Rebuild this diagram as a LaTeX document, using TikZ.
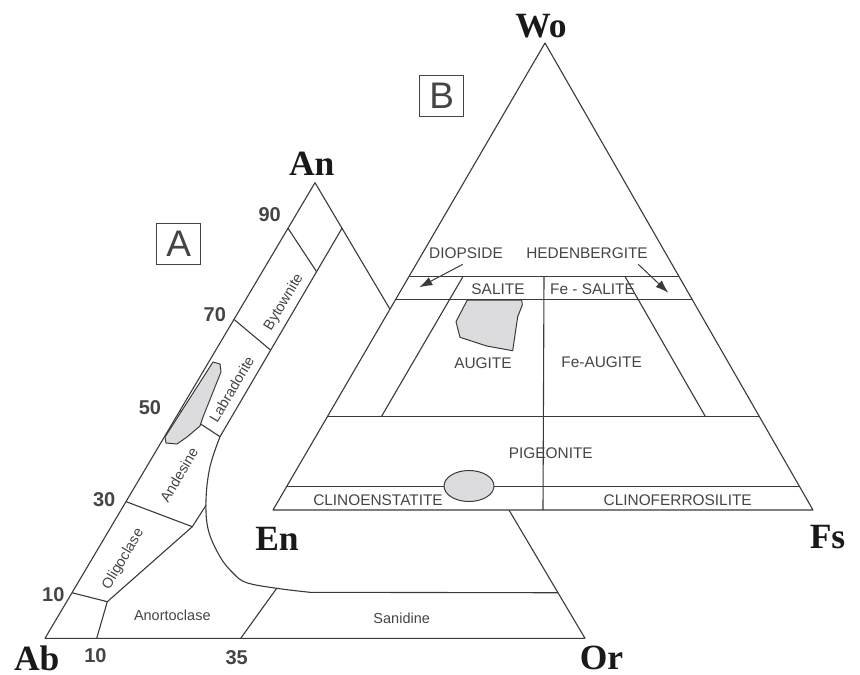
\documentclass[tikz,border=0pt]{standalone}
\usepackage{fontspec}
\setmainfont{Liberation Serif}
\setsansfont{Liberation Sans}
\usetikzlibrary{calc,arrows.meta}
\definecolor{lineg}{HTML}{3A3A3A}
\definecolor{textg}{HTML}{454545}
\definecolor{fillg}{HTML}{DCDCDF}
\tikzset{
  rim/.style={lineg, line width=1.1pt, line join=round},
  grain/.style={fill=fillg, draw=lineg, line width=1pt, line join=round},
  pointer/.style={lineg, line width=1pt, -{Latex[length=13pt,width=9pt]}},
  endmember/.style={font=\fontsize{35.5}{35.5}\selectfont\bfseries, text=black!90},
  pct/.style={font=\sffamily\bfseries\fontsize{20}{20}\selectfont, text=textg},
  feldname/.style={font=\sffamily\fontsize{14.5}{14.5}\selectfont, text=textg},
  pyxname/.style={font=\sffamily\fontsize{15.4}{15.4}\selectfont, text=textg},
  panel/.style={draw=textg, line width=1pt, minimum width=44pt, minimum height=41pt,
    font=\sffamily\fontsize{37}{37}\selectfont, text=textg}
}
\begin{document}
\begin{tikzpicture}[x=1pt,y=1pt]
\tikzstyle{every node}+=[inner sep=0pt]
\useasboundingbox (0,0) rectangle (860,-675);
% feldspar triangle (A)
\coordinate (Ab) at (45,-638.3);
\coordinate (An) at (315,-182.7);
\coordinate (Or) at (585,-638.3);
\draw [rim] (Ab) -- (An) -- (Or) -- cycle;
\draw [rim] ($(An)!0.1!(Or)$) -- (220,-436.7)
  -- plot [smooth, tension=0.6] coordinates {(220,-436.7) (210,-466.7) (206,-500) (208.3,-530) (220,-556.7) (233.3,-573.3) (246.7,-582.7) (276.7,-588.3) (310,-592.3)}
  -- ($(An)!0.9!(Or)$);
\draw [rim] ($(Ab)!0.9!(An)$) -- (316.6,-271.7);
\draw [rim] ($(Ab)!0.7!(An)$) -- (270.5,-350);
\draw [rim] ($(Ab)!0.5!(An)$) -- (220,-436.7);
\draw [rim] ($(Ab)!0.3!(An)$) -- (192.3,-526.7) -- (206.2,-505);
\draw [rim] ($(Ab)!0.1!(An)$) -- (107.3,-601.7) -- (192.3,-526.7);
\draw [rim] (107.3,-601.7) -- (96.7,-638.3);
\draw [rim] (240.7,-638.3) -- (276.7,-588.3);
\draw [grain] (165,-437) -- (213,-362) -- (220,-364) -- (221,-372) -- (203,-417) -- (200,-426)
  -- (187,-437) -- (177,-444) -- (166,-443) -- cycle;
% pyroxene triangle (B)
\coordinate (Wo) at (545,-43);
\coordinate (En) at (273,-510);
\coordinate (Fs) at (813,-510);
\draw [rim, fill=white] (Wo) -- (En) -- (Fs) -- cycle;
\draw [rim] (barycentric cs:Wo=0.5,En=0.5) -- (barycentric cs:Wo=0.5,Fs=0.5);
\draw [rim] (barycentric cs:Wo=0.45,En=0.55) -- (barycentric cs:Wo=0.45,Fs=0.55);
\draw [rim] (barycentric cs:Wo=0.2,En=0.8) -- (barycentric cs:Wo=0.2,Fs=0.8);
\draw [rim] (barycentric cs:Wo=0.05,En=0.95) -- (barycentric cs:Wo=0.05,Fs=0.95);
\draw [rim] (barycentric cs:Wo=0.5,En=0.4,Fs=0.1) -- (barycentric cs:Wo=0.2,En=0.7,Fs=0.1);
\draw [rim] (barycentric cs:Wo=0.5,En=0.1,Fs=0.4) -- (barycentric cs:Wo=0.2,En=0.1,Fs=0.7);
\draw [rim] (barycentric cs:Wo=0.5,En=0.25,Fs=0.25) -- (barycentric cs:En=0.5,Fs=0.5);
\draw [grain] (467.3,-300) -- (521.7,-300) -- (522.3,-305) -- (517.7,-316.7) -- (512.7,-350.7)
  -- (486.7,-346) -- (460,-337.3) -- (456,-321.7) -- cycle;
\draw [grain] (469,-486) ellipse [x radius=25, y radius=15.5];
% end members and ticks
\node [endmember] (lblAn) at (311.7,-163.3) {An};
\node [endmember] (lblAb) at (36.7,-658.3) {Ab};
\node [endmember] (lblOr) at (601.5,-658.3) {Or};
\node [endmember] (lblWo) at (541,-25.8) {Wo};
\node [endmember] (lblEn) at (277,-538.8) {En};
\node [endmember] (lblFs) at (827.5,-536.7) {Fs};
\node [pct] (t90) at (269.7,-215) {90};
\node [pct] (t70) at (214.8,-314.2) {70};
\node [pct] (t50) at (150,-408) {50};
\node [pct] (t30) at (104.2,-499.2) {30};
\node [pct] (t10) at (53.3,-594.2) {10};
\node [pct] (b10) at (95.5,-655.8) {10};
\node [pct] (b35) at (236.7,-657.5) {35};
\node [panel] (boxA) at (178.7,-243.7) {A};
\node [panel] (boxB) at (441.7,-95.5) {B};
% feldspar names
\node [feldname, rotate=59.4] (byt) at (284,-302.3) {Bytownite};
\node [feldname, rotate=59.4] (lab) at (231.7,-389.5) {Labradorite};
\node [feldname, rotate=59.4] (and) at (179,-475) {Andesine};
\node [feldname, rotate=59.4] (oli) at (123.3,-559.2) {Oligoclase};
\node [feldname] (ano) at (172.3,-615) {Anortoclase};
\node [feldname] (san) at (401.7,-618.3) {Sanidine};
% pyroxene names
\node [pyxname] (dio) at (466,-252.7) {DIOPSIDE};
\node [pyxname] (hed) at (587,-252.7) {HEDENBERGITE};
\node [pyxname] (sal) at (498,-289) {SALITE};
\node [pyxname] (fesal) at (592.5,-289) {Fe - SALITE};
\node [pyxname] (aug) at (483,-363.3) {AUGITE};
\node [pyxname] (feaug) at (601.7,-362) {Fe-AUGITE};
\node [pyxname] (pig) at (550.8,-452.7) {PIGEONITE};
\node [pyxname] (cen) at (378,-500) {CLINOENSTATITE};
\node [pyxname] (cfs) at (677.7,-500) {CLINOFERROSILITE};
\coordinate (dioTip) at (419.3,-287.3);
\coordinate (hedTip) at (668.3,-292.7);
\draw [pointer] ($(dio.south)+(-3.3,-6)$) -- (dioTip);
\draw [pointer] ($(hed.south)+(51.3,-6)$) -- (hedTip);
\end{tikzpicture}
\end{document}
